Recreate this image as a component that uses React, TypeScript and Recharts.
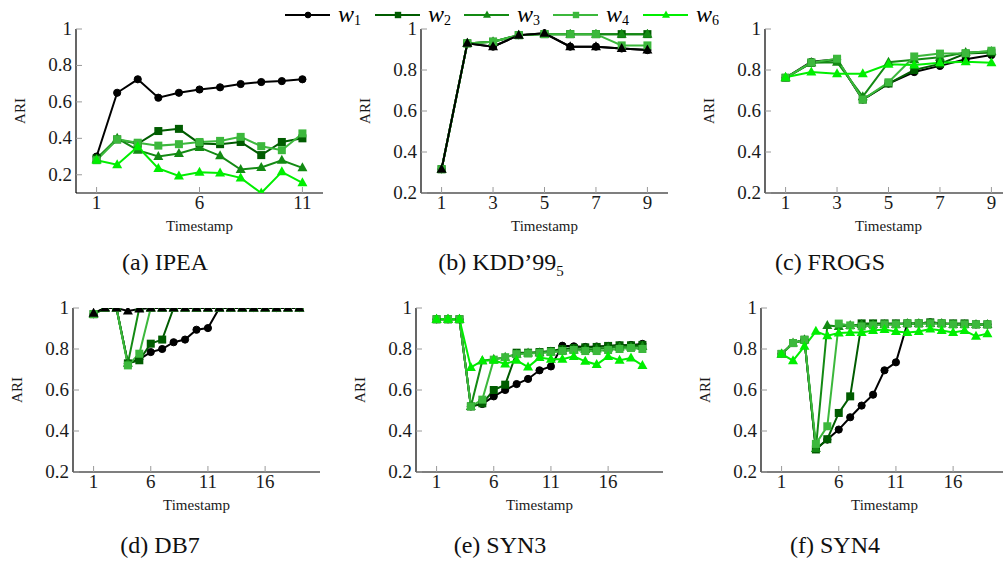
import React from "react";
import { LineChart, Line, XAxis, YAxis } from "recharts";

// timestamps
const shortTimestamps = [1, 2, 3, 4, 5, 6, 7, 8, 9];
const ipeaTimestamps = [1, 2, 3, 4, 5, 6, 7, 8, 9, 10, 11];
const longTimestamps = [1, 2, 3, 4, 5, 6, 7, 8, 9, 10, 11, 12, 13, 14, 15, 16, 17, 18, 19];

// (a) IPEA
const ipeaW1 = [0.3, 0.65, 0.724, 0.623, 0.65, 0.668, 0.68, 0.698, 0.709, 0.714, 0.724];
const ipeaW2 = [0.29, 0.394, 0.37, 0.44, 0.452, 0.372, 0.368, 0.38, 0.308, 0.38, 0.4];
const ipeaW3 = [0.285, 0.4, 0.335, 0.3, 0.317, 0.35, 0.304, 0.229, 0.24, 0.28, 0.238];
const ipeaW4 = [0.28, 0.394, 0.376, 0.36, 0.368, 0.38, 0.386, 0.408, 0.357, 0.335, 0.427];
const ipeaW6 = [0.28, 0.255, 0.354, 0.235, 0.193, 0.214, 0.21, 0.183, 0.1, 0.216, 0.156];

// (b) KDD'99_5
const kddW1 = [0.316, 0.93, 0.914, 0.97, 0.979, 0.914, 0.914, 0.905, 0.897];
const kddW2 = [0.316, 0.93, 0.938, 0.97, 0.975, 0.975, 0.975, 0.975, 0.975];
const kddW3 = [0.316, 0.93, 0.938, 0.97, 0.975, 0.975, 0.975, 0.975, 0.975];
const kddW4 = [0.316, 0.93, 0.938, 0.97, 0.975, 0.975, 0.975, 0.92, 0.92];
const kddW6 = [0.316, 0.93, 0.914, 0.97, 0.979, 0.914, 0.914, 0.905, 0.897];

// (c) FROGS
const frogsW1 = [0.762, 0.84, 0.852, 0.656, 0.734, 0.79, 0.82, 0.852, 0.873];
const frogsW2 = [0.762, 0.835, 0.85, 0.656, 0.734, 0.8, 0.83, 0.88, 0.885];
const frogsW3 = [0.762, 0.835, 0.838, 0.67, 0.838, 0.85, 0.862, 0.885, 0.89];
const frogsW4 = [0.762, 0.837, 0.855, 0.656, 0.74, 0.866, 0.88, 0.882, 0.894];
const frogsW6 = [0.765, 0.79, 0.782, 0.782, 0.828, 0.825, 0.835, 0.84, 0.835];

// (d) DB7
const db7W1 = [0.97, 1, 1, 0.73, 0.75, 0.785, 0.8, 0.833, 0.846, 0.894, 0.902, 1, 1, 1, 1, 1, 1, 1, 1];
const db7W2 = [0.97, 1, 1, 0.73, 0.745, 0.826, 0.846, 1, 1, 1, 1, 1, 1, 1, 1, 1, 1, 1, 1];
const db7W3 = [0.97, 1, 1, 0.73, 1, 1, 1, 1, 1, 1, 1, 1, 1, 1, 1, 1, 1, 1, 1];
const db7W4 = [0.97, 1, 1, 0.72, 0.777, 1, 1, 1, 1, 1, 1, 1, 1, 1, 1, 1, 1, 1, 1];
const db7W6 = [0.975, 1, 1, 0.985, 0.995, 1, 1, 1, 1, 1, 1, 1, 1, 1, 1, 1, 1, 1, 1];

// (e) SYN3
const syn3W1 = [0.945, 0.945, 0.945, 0.52, 0.532, 0.569, 0.6, 0.629, 0.654, 0.696, 0.715, 0.816, 0.813, 0.81, 0.812, 0.815, 0.818, 0.82, 0.825];
const syn3W2 = [0.945, 0.945, 0.945, 0.52, 0.535, 0.6, 0.626, 0.782, 0.782, 0.785, 0.79, 0.8, 0.805, 0.808, 0.81, 0.815, 0.818, 0.818, 0.82];
const syn3W3 = [0.945, 0.945, 0.945, 0.52, 0.743, 0.75, 0.76, 0.775, 0.78, 0.782, 0.785, 0.79, 0.795, 0.797, 0.8, 0.805, 0.808, 0.81, 0.812];
const syn3W4 = [0.945, 0.945, 0.945, 0.52, 0.553, 0.748, 0.76, 0.775, 0.778, 0.78, 0.785, 0.79, 0.795, 0.79, 0.79, 0.795, 0.8, 0.805, 0.8];
const syn3W6 = [0.945, 0.945, 0.945, 0.71, 0.743, 0.745, 0.727, 0.745, 0.712, 0.758, 0.75, 0.75, 0.764, 0.74, 0.724, 0.764, 0.745, 0.756, 0.72];

// (f) SYN4
const syn4W1 = [0.776, 0.829, 0.845, 0.312, 0.358, 0.407, 0.467, 0.524, 0.577, 0.696, 0.735, 0.925, 0.925, 0.93, 0.925, 0.92, 0.92, 0.92, 0.92];
const syn4W2 = [0.776, 0.829, 0.845, 0.31, 0.36, 0.488, 0.569, 0.925, 0.925, 0.925, 0.925, 0.925, 0.925, 0.93, 0.925, 0.925, 0.925, 0.92, 0.92];
const syn4W3 = [0.776, 0.829, 0.845, 0.315, 0.915, 0.91, 0.915, 0.92, 0.92, 0.92, 0.92, 0.925, 0.925, 0.925, 0.925, 0.92, 0.92, 0.92, 0.92];
const syn4W4 = [0.776, 0.829, 0.845, 0.337, 0.423, 0.924, 0.915, 0.91, 0.915, 0.92, 0.92, 0.925, 0.925, 0.925, 0.925, 0.92, 0.92, 0.92, 0.92];
const syn4W6 = [0.776, 0.743, 0.813, 0.886, 0.865, 0.878, 0.88, 0.88, 0.89, 0.895, 0.885, 0.88, 0.885, 0.898, 0.89, 0.88, 0.89, 0.862, 0.875];

// ticks
const yTicks = [0.2, 0.4, 0.6, 0.8, 1];
const ipeaXTicks = [1, 6, 11];
const shortXTicks = [1, 3, 5, 7, 9];
const longXTicks = [1, 6, 11, 16];

const seriesKeys = ["w1", "w2", "w3", "w4", "w6"];
const seriesColors: Record<string, string> = {
  w1: "#000000",
  w2: "#005c00",
  w3: "#138a13",
  w4: "#3cb83c",
  w6: "#00ee00",
};
const seriesMarks: Record<string, string> = {
  w1: "circle",
  w2: "square",
  w3: "triangle",
  w4: "square",
  w6: "triangle",
};

const toRows = (ts: number[], cols: number[][]) =>
  ts.map((t, i) => {
    const row: any = { t };
    seriesKeys.forEach((k, j) => (row[k] = cols[j][i]));
    return row;
  });

const PLOT_W = 247;
const PLOT_H = 164;
const Y_AXIS_W = 70;
const X_AXIS_H = 45;
const PAD_TOP = 12;
const PAD_RIGHT = 20;
const TICK_GRAY = "#9a9a9a";
const FONT = "'Liberation Serif', 'Times New Roman', serif";

function drawMark(shape: string, color: string, size = 1) {
  return (props: any) => {
    const { cx, cy, index } = props;
    if (cx == null || cy == null) return <g key={index} />;
    if (shape === "circle")
      return <circle key={index} cx={cx} cy={cy} r={3.6 * size} fill={color} stroke={color} />;
    if (shape === "square") {
      const h = 4 * size;
      return <rect key={index} x={cx - h} y={cy - h} width={2 * h} height={2 * h} fill={color} />;
    }
    const s = size;
    return (
      <polygon
        key={index}
        points={`${cx},${cy - 5.5 * s} ${cx - 5 * s},${cy + 3.5 * s} ${cx + 5 * s},${cy + 3.5 * s}`}
        fill={color}
      />
    );
  };
}

const BottomTick = (props: any) => {
  const { x, y, payload } = props;
  return (
    <g>
      <line x1={x} y1={y} x2={x} y2={y - 6} stroke={TICK_GRAY} />
      <text x={x} y={y + 16} textAnchor="middle" fontSize={19} fill="#1a1a1a" fontFamily={FONT}>
        {payload.value}
      </text>
    </g>
  );
};

const LeftTick = (props: any) => {
  const { x, y, payload } = props;
  return (
    <g>
      <line x1={x} y1={y} x2={x + 6} y2={y} stroke={TICK_GRAY} />
      <text x={x - 4} y={y + 6} textAnchor="end" fontSize={19} fill="#1a1a1a" fontFamily={FONT}>
        {payload.value}
      </text>
    </g>
  );
};

type PanelProps = {
  left: number;
  top: number;
  rows: any[];
  xDomain: [number, number];
  xTicks: number[];
  yDomain: [number, number];
  colors?: Record<string, string>;
};

function Panel({ left, top, rows, xDomain, xTicks, yDomain, colors = seriesColors }: PanelProps) {
  return (
    <div style={{ position: "absolute", left: left - Y_AXIS_W, top: top - PAD_TOP, fontFamily: FONT }}>
      <LineChart
        width={Y_AXIS_W + PLOT_W + PAD_RIGHT}
        height={PAD_TOP + PLOT_H + X_AXIS_H}
        data={rows}
        margin={{ top: PAD_TOP, right: PAD_RIGHT, bottom: 0, left: 0 }}
      >
        <XAxis
          xAxisId="bottom"
          dataKey="t"
          type="number"
          domain={xDomain}
          ticks={xTicks}
          interval={0}
          allowDataOverflow
          height={X_AXIS_H}
          axisLine={{ stroke: "#000", strokeWidth: 1.2 }}
          tickLine={false}
          tickSize={0}
          tickMargin={0}
          tick={<BottomTick />}
          label={{ value: "Timestamp", position: "insideBottom", offset: 7, fontSize: 15, fill: "#1a1a1a", fontFamily: FONT }}
        />
        <XAxis
          xAxisId="top"
          orientation="top"
          dataKey="t"
          type="number"
          domain={xDomain}
          ticks={xTicks}
          interval={0}
          allowDataOverflow
          height={0}
          mirror
          tick={false}
          tickSize={6}
          tickLine={{ stroke: TICK_GRAY }}
          axisLine={{ stroke: "#000", strokeWidth: 1.2 }}
        />
        <YAxis
          yAxisId="left"
          type="number"
          domain={yDomain}
          ticks={yTicks}
          interval={0}
          allowDataOverflow
          width={Y_AXIS_W}
          axisLine={{ stroke: "#000", strokeWidth: 1.2 }}
          tickLine={false}
          tickSize={0}
          tickMargin={0}
          tick={<LeftTick />}
          label={{
            value: "ARI",
            angle: -90,
            position: "insideLeft",
            offset: 14,
            fontSize: 15,
            fill: "#1a1a1a",
            fontFamily: FONT,
            style: { textAnchor: "middle" },
          }}
        />
        <YAxis
          yAxisId="right"
          orientation="right"
          type="number"
          domain={yDomain}
          ticks={yTicks}
          interval={0}
          allowDataOverflow
          width={0}
          mirror
          tick={false}
          tickSize={6}
          tickLine={{ stroke: TICK_GRAY }}
          axisLine={{ stroke: "#000", strokeWidth: 1.2 }}
        />
        {seriesKeys.map((k) => (
          <Line
            key={k}
            xAxisId="bottom"
            yAxisId="left"
            dataKey={k}
            stroke={colors[k]}
            strokeWidth={2}
            dot={drawMark(seriesMarks[k], colors[k])}
            activeDot={false}
            isAnimationActive={false}
          />
        ))}
      </LineChart>
    </div>
  );
}

const Caption = ({ x, y, children }: { x: number; y: number; children: React.ReactNode }) => (
  <div
    style={{
      position: "absolute",
      left: x - 100,
      top: y,
      width: 200,
      textAlign: "center",
      fontFamily: FONT,
      fontSize: 24,
      lineHeight: "26px",
      color: "#111",
    }}
  >
    {children}
  </div>
);

const legendX = [285, 375, 464, 553, 643];

function Legend() {
  return (
    <svg width={1003} height={32} style={{ position: "absolute", left: 0, top: 0 }}>
      {seriesKeys.map((k, i) => {
        const x0 = legendX[i];
        const Mark = drawMark(seriesMarks[k], seriesColors[k], 0.8);
        return (
          <g key={k}>
            <line x1={x0} y1={15} x2={x0 + 45} y2={15} stroke={seriesColors[k]} strokeWidth={2} />
            {Mark({ cx: x0 + 23, cy: 15, index: 0 })}
            <text x={x0 + 53} y={22} fontFamily={FONT} fontSize={24} fontStyle="italic" fill="#000">
              w
              <tspan fontSize={14} fontStyle="normal" dy={3}>
                {k.slice(1)}
              </tspan>
            </text>
          </g>
        );
      })}
    </svg>
  );
}

const blackW6 = { ...seriesColors, w6: "#000000" };

export default function App() {
  return (
    <div
      style={{
        position: "absolute",
        left: 0,
        top: 0,
        width: 1003,
        height: 572,
        overflow: "hidden",
        background: "#fff",
      }}
    >
      <Legend />
      <Panel
        left={76}
        top={29}
        rows={toRows(ipeaTimestamps, [ipeaW1, ipeaW2, ipeaW3, ipeaW4, ipeaW6])}
        xDomain={[0, 12]}
        xTicks={ipeaXTicks}
        yDomain={[0.1, 1]}
      />
      <Panel
        left={421}
        top={29}
        rows={toRows(shortTimestamps, [kddW1, kddW2, kddW3, kddW4, kddW6])}
        xDomain={[0.2, 9.8]}
        xTicks={shortXTicks}
        yDomain={[0.2, 1]}
        colors={blackW6}
      />
      <Panel
        left={765}
        top={29}
        rows={toRows(shortTimestamps, [frogsW1, frogsW2, frogsW3, frogsW4, frogsW6])}
        xDomain={[0.2, 9.8]}
        xTicks={shortXTicks}
        yDomain={[0.2, 1]}
      />
      <Panel
        left={73}
        top={308}
        rows={toRows(longTimestamps, [db7W1, db7W2, db7W3, db7W4, db7W6])}
        xDomain={[-0.8, 20.8]}
        xTicks={longXTicks}
        yDomain={[0.2, 1]}
        colors={blackW6}
      />
      <Panel
        left={416}
        top={308}
        rows={toRows(longTimestamps, [syn3W1, syn3W2, syn3W3, syn3W4, syn3W6])}
        xDomain={[-0.8, 20.8]}
        xTicks={longXTicks}
        yDomain={[0.2, 1]}
      />
      <Panel
        left={761}
        top={308}
        rows={toRows(longTimestamps, [syn4W1, syn4W2, syn4W3, syn4W4, syn4W6])}
        xDomain={[-0.8, 20.8]}
        xTicks={longXTicks}
        yDomain={[0.2, 1]}
      />
      <Caption x={165} y={249}>(a) IPEA</Caption>
      <Caption x={501} y={249}>
        (b) KDD’99<sub style={{ fontSize: 15 }}>5</sub>
      </Caption>
      <Caption x={830} y={249}>(c) FROGS</Caption>
      <Caption x={160} y={532}>(d) DB7</Caption>
      <Caption x={500} y={532}>(e) SYN3</Caption>
      <Caption x={835} y={532}>(f) SYN4</Caption>
    </div>
  );
}
